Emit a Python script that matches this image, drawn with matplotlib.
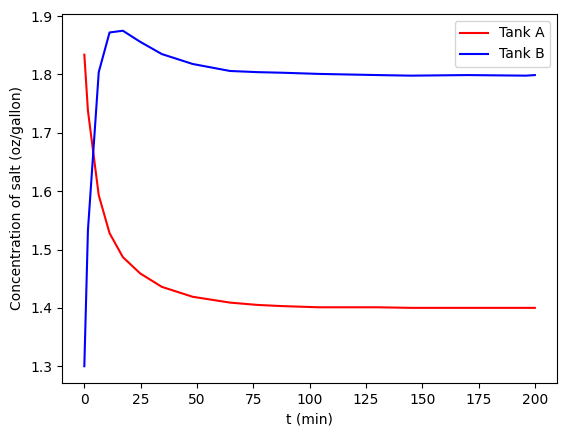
import matplotlib
matplotlib.use("Agg")
import matplotlib.pyplot as plt

# time points from the solver (min)
t = [0, 1.6, 6.4, 11.2, 17.1, 24.8, 34.4, 48.1, 64.7, 77, 88, 104, 130, 145, 170, 196, 200]
# concentration of salt, oz/gallon
tankA = [1.834, 1.738, 1.593, 1.528, 1.487, 1.459, 1.436, 1.419, 1.409, 1.405,
         1.403, 1.401, 1.401, 1.400, 1.400, 1.400, 1.400]
tankB = [1.300, 1.533, 1.804, 1.872, 1.875, 1.856, 1.835, 1.818, 1.806, 1.804,
         1.803, 1.801, 1.799, 1.798, 1.799, 1.798, 1.799]

fig = plt.figure(figsize=(5.67, 4.36), dpi=100)
ax = fig.add_axes([0.109, 0.1216, 0.874, 0.8464])
ax.plot(t, tankA, color='red', label='Tank A')
ax.plot(t, tankB, color='blue', label='Tank B')
ax.set_xlabel('t (min)')
ax.set_ylabel('Concentration of salt (oz/gallon)')
ax.legend(loc='upper right')
fig.savefig('out.png', dpi=100)
